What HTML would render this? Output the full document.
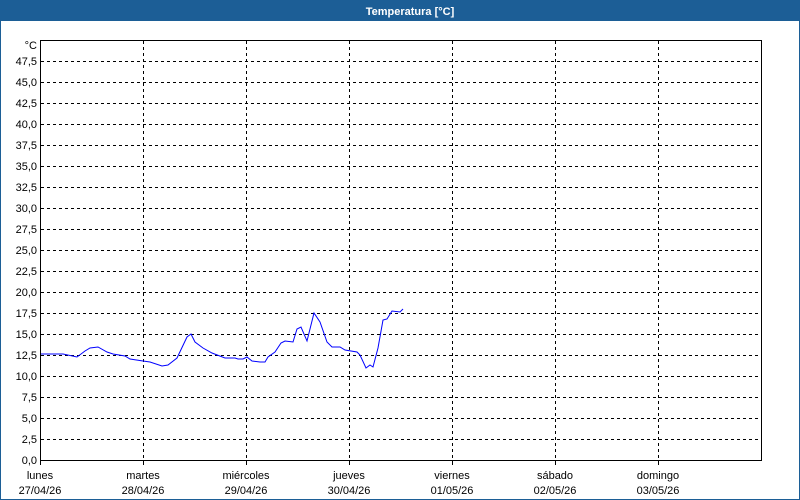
<!DOCTYPE html>
<html><head><meta charset="utf-8"><style>
body{margin:0;width:800px;height:500px;overflow:hidden;background:#fff;font-family:"Liberation Sans",sans-serif}
</style></head><body>
<svg width="800" height="500" xmlns="http://www.w3.org/2000/svg" style="display:block">
<rect x="0" y="0" width="800" height="500" fill="#fff"/>
<rect x="0.5" y="0.5" width="799" height="499" fill="none" stroke="#1c5e96"/>
<rect x="0" y="0" width="800" height="21" fill="#1c5e96"/>
<text x="410" y="15" fill="#fff" font-size="11" font-weight="bold" text-anchor="middle">Temperatura [°C]</text>
<g stroke="#000" stroke-dasharray="3,3" stroke-width="1">
<path d="M41 61.5H761M41 82.5H761M41 103.5H761M41 124.5H761M41 145.5H761M41 166.5H761M41 187.5H761M41 208.5H761M41 229.5H761M41 250.5H761M41 271.5H761M41 292.5H761M41 313.5H761M41 334.5H761M41 355.5H761M41 376.5H761M41 397.5H761M41 418.5H761M41 439.5H761"/>
<path d="M143.5 41V460M246.5 41V460M349.5 41V460M452.5 41V460M555.5 41V460M658.5 41V460"/>
</g>
<g stroke="#000"><path d="M40.5 40V465M143.5 460V465M246.5 460V465M349.5 460V465M452.5 460V465M555.5 460V465M658.5 460V465"/></g>
<rect x="40.5" y="40.5" width="721" height="420" fill="none" stroke="#000"/>
<g font-size="11" fill="#000" text-anchor="end">
<text x="37" y="49">°C</text>
<text x="37" y="65">47,5</text><text x="37" y="86">45,0</text><text x="37" y="107">42,5</text><text x="37" y="128">40,0</text><text x="37" y="149">37,5</text><text x="37" y="170">35,0</text><text x="37" y="191">32,5</text><text x="37" y="212">30,0</text><text x="37" y="233">27,5</text><text x="37" y="254">25,0</text><text x="37" y="275">22,5</text><text x="37" y="296">20,0</text><text x="37" y="317">17,5</text><text x="37" y="338">15,0</text><text x="37" y="359">12,5</text><text x="37" y="380">10,0</text><text x="37" y="401">7,5</text><text x="37" y="422">5,0</text><text x="37" y="443">2,5</text><text x="37" y="464">0,0</text>
</g>
<g font-size="11" fill="#000" text-anchor="middle">
<text x="40" y="479">lunes</text><text x="40" y="494">27/04/26</text>
<text x="143" y="479">martes</text><text x="143" y="494">28/04/26</text>
<text x="246" y="479">miércoles</text><text x="246" y="494">29/04/26</text>
<text x="349" y="479">jueves</text><text x="349" y="494">30/04/26</text>
<text x="452" y="479">viernes</text><text x="452" y="494">01/05/26</text>
<text x="555" y="479">sábado</text><text x="555" y="494">02/05/26</text>
<text x="658" y="479">domingo</text><text x="658" y="494">03/05/26</text>
</g>
<polyline fill="none" stroke="#0000ff" stroke-width="1" points="41,354 63,354 77,357 85,351 90,348 98,347 107,352 113,354 125,356 130,359 143,361 150,362 162,366 168,365 177,358 187,337 191,334 195,342 203,348 212,353 225,358 230,358 235,358 238,359 243,359 247,357 252,361 260,362 265,362 268,357 275,352 281,343 285,341 293,342 297,329 301,327 307,341 314,313 320,322 327,342 332,347 340,347 345,350 357,352 360,355 366,368 370,365 373,367 378,348 383,320 387,319 392,311 400,312 403,309"/>
</svg>
</body></html>
